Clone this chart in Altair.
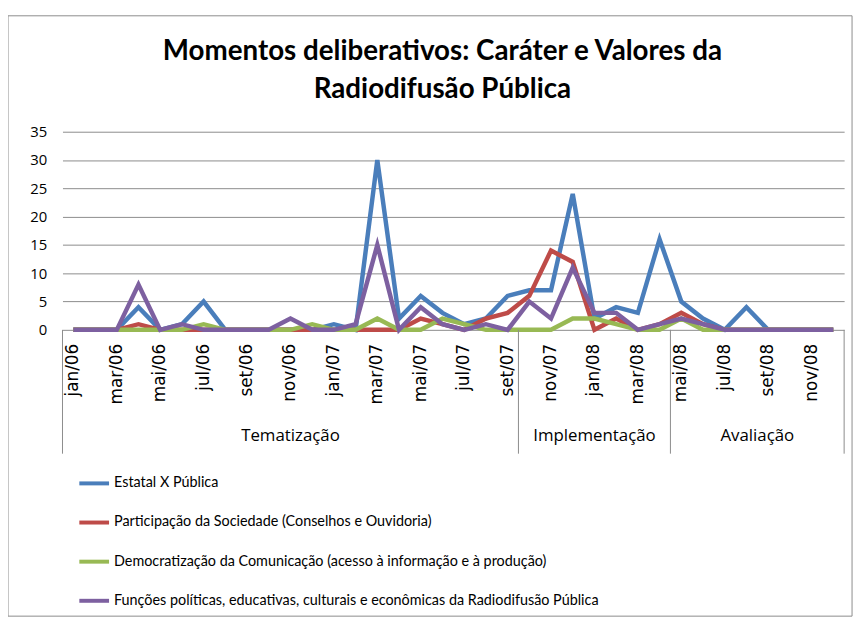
import altair as alt
import pandas as pd

months = ["jan/06", "fev/06", "mar/06", "abr/06", "mai/06", "jun/06", "jul/06", "ago/06", "set/06", "out/06", "nov/06", "dez/06",
          "jan/07", "fev/07", "mar/07", "abr/07", "mai/07", "jun/07", "jul/07", "ago/07", "set/07", "out/07", "nov/07", "dez/07",
          "jan/08", "fev/08", "mar/08", "abr/08", "mai/08", "jun/08", "jul/08", "ago/08", "set/08", "out/08", "nov/08", "dez/08"]

series_names = ["Estatal X Pública",
                "Participação da Sociedade (Conselhos e Ouvidoria)",
                "Democratização da Comunicação (acesso à informação e à produção)",
                "Funções políticas, educativas, culturais e econômicas da Radiodifusão Pública"]

estatal = [0, 0, 0, 4, 0, 1, 5, 0, 0, 0, 0, 0, 1, 0, 30, 2, 6, 3, 1, 2, 6, 7, 7, 24, 2, 4, 3, 16, 5, 2, 0, 4, 0, 0, 0, 0]
participacao = [0, 0, 0, 1, 0, 0, 0, 0, 0, 0, 0, 0, 0, 0, 0, 0, 2, 1, 0, 2, 3, 6, 14, 12, 0, 2, 0, 1, 3, 1, 0, 0, 0, 0, 0, 0]
democratizacao = [0, 0, 0, 0, 0, 0, 1, 0, 0, 0, 0, 1, 0, 0, 2, 0, 0, 2, 1, 0, 0, 0, 0, 2, 2, 1, 0, 0, 2, 0, 0, 0, 0, 0, 0, 0]
funcoes = [0, 0, 0, 8, 0, 1, 0, 0, 0, 0, 2, 0, 0, 1, 15, 0, 4, 1, 0, 1, 0, 5, 2, 11, 3, 3, 0, 1, 2, 1, 0, 0, 0, 0, 0, 0]

group_names = ["Tematização", "Implementação", "Avaliação"]
group_start = [0, 21, 28]
group_end = [20, 27, 35]

colors = ["#4A7EBB", "#BE4B48", "#98B954", "#7D60A0"]

rows = []
for name, vals in zip(series_names, [estatal, participacao, democratizacao, funcoes]):
    for i, v in enumerate(vals):
        rows.append({"idx": i, "value": v, "serie": name})
df = pd.DataFrame(rows)

df_months = pd.DataFrame({"idx": list(range(0, len(months), 2)),
                          "mes": months[0::2]})
bounds = [s - 0.5 for s in group_start] + [group_end[-1] + 0.5]
df_bounds = pd.DataFrame({"pos": bounds})
df_groups = pd.DataFrame({"grupo": group_names,
                          "mid": [(s + e) / 2 for s, e in zip(group_start, group_end)]})

W, H = 789, 200

xscale = alt.Scale(domain=[-0.5, len(months) - 0.5], nice=False, zero=False)

border = alt.Chart(pd.DataFrame({"a": [0]})).mark_rect(
    fill=None, stroke="#8c8c8c", strokeWidth=1
).encode(x=alt.value(-55), x2=alt.value(797), y=alt.value(-117), y2=alt.value(489))

lines = alt.Chart(df).mark_line(strokeWidth=4.5).encode(
    x=alt.X("idx:Q", scale=xscale, title=None,
            axis=alt.Axis(labels=False, ticks=False, grid=False, domainColor="#8c8c8c")),
    y=alt.Y("value:Q", scale=alt.Scale(domain=[0, 35], nice=False), title=None,
            axis=alt.Axis(values=list(range(0, 36, 5)), ticks=False, domain=False,
                          gridColor="#8c8c8c", labelFont="Open Sans", labelFontSize=15,
                          labelColor="black", labelPadding=16)),
    color=alt.Color("serie:N", scale=alt.Scale(domain=series_names, range=colors),
                    legend=alt.Legend(orient="none", legendX=15, legendY=338, title=None,
                                      symbolType="stroke", symbolSize=900, symbolStrokeWidth=4,
                                      labelFont="Lato", labelFontSize=14.5,
                                      labelColor="black", rowPadding=14.5, labelOffset=3,
                                      labelLimit=800, direction="vertical")),
    order=alt.Order("idx:Q"),
)

mlabels = alt.Chart(df_months).mark_text(
    font="DejaVu Sans", fontSize=17, color="black", angle=270, align="right", baseline="middle"
).encode(x=alt.X("idx:Q", scale=xscale, axis=None), y=alt.value(H + 14), text="mes:N")

seps = alt.Chart(df_bounds).mark_rule(color="#8c8c8c", strokeWidth=1).encode(
    x=alt.X("pos:Q", scale=xscale, axis=None), y=alt.value(H), y2=alt.value(H + 125)
)

gtext = alt.Chart(df_groups).mark_text(font="Open Sans", fontSize=17, color="black", baseline="middle").encode(
    x=alt.X("mid:Q", scale=xscale, axis=None), y=alt.value(H + 107), text="grupo:N"
)

chart = alt.layer(border, lines, mlabels, seps, gtext).properties(
    width=W, height=H,
    title=alt.Title(["Momentos deliberativos: Caráter e Valores da", "Radiodifusão Pública"],
                    font="Lato", fontSize=28, fontWeight="bold", color="black",
                    anchor="middle", dx=-11, offset=-89, lineHeight=38),
    autosize=alt.AutoSizeParams(type="none"),
    padding={"left": 55, "top": 122, "right": 14, "bottom": 289},
).configure_view(stroke=None)

chart.save("out.html", embed_options={"renderer": "svg", "actions": False})
